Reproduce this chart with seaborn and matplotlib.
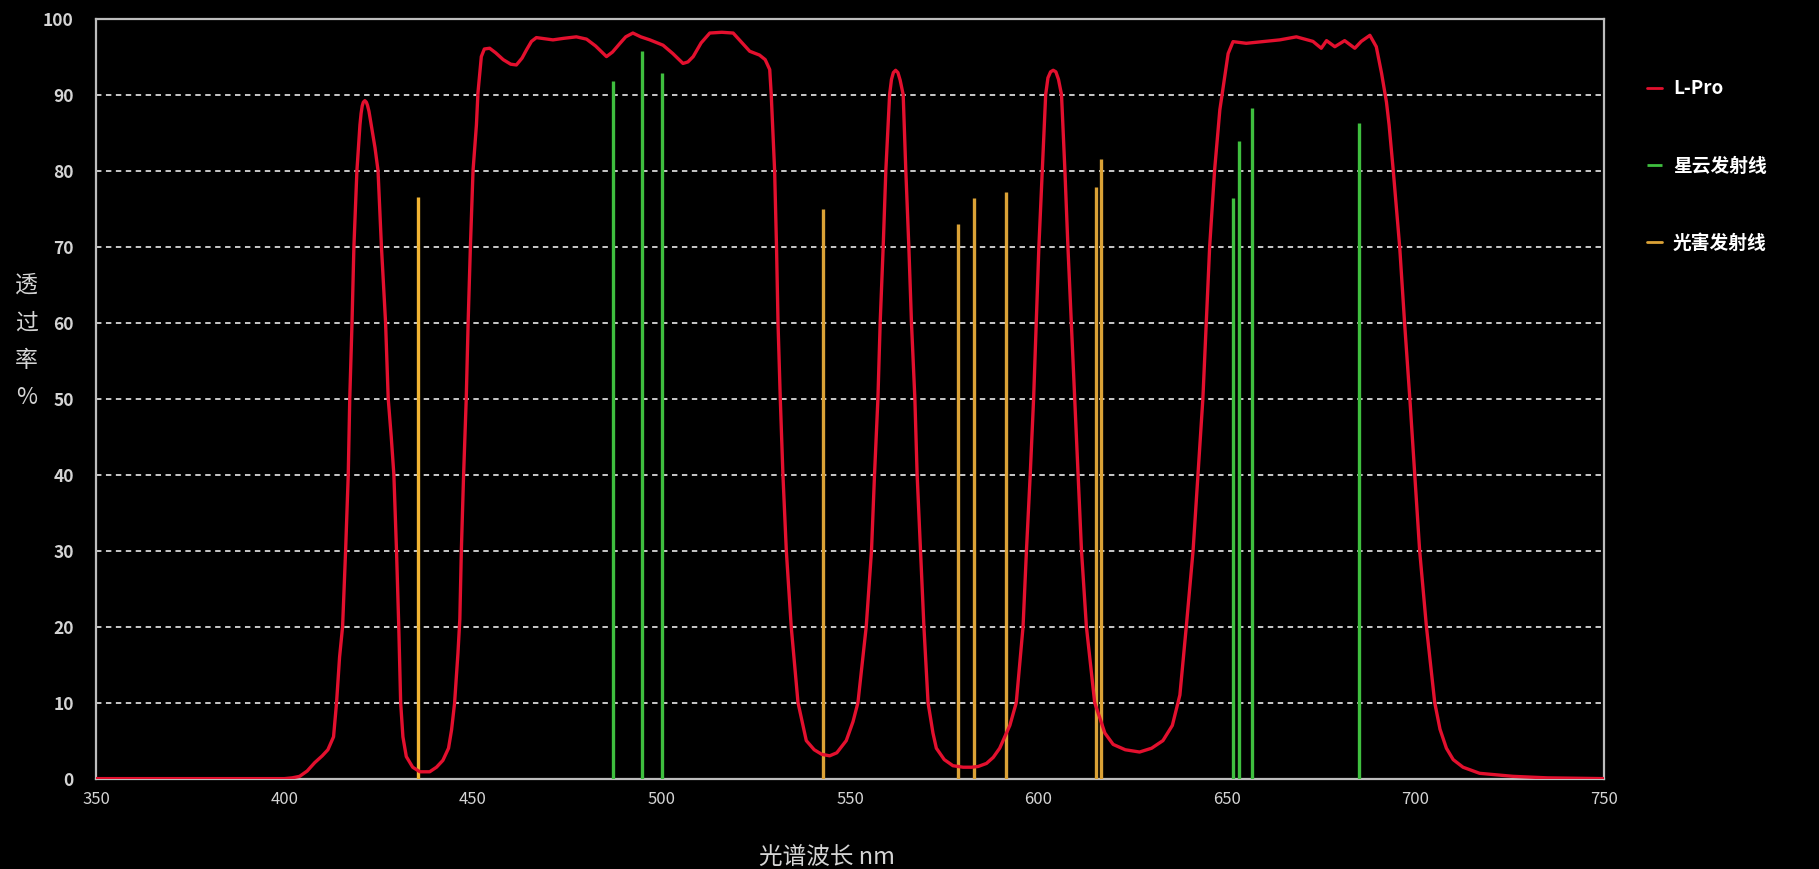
import numpy as np
import pandas as pd
import matplotlib
matplotlib.use("Agg")
import matplotlib.pyplot as plt
import seaborn as sns

# L-Pro 透过率曲线
lpro_wl = [350, 380, 400, 402, 404, 406, 408, 410, 411.5, 413, 413.8, 414.6, 415.4, 416.2, 416.9,
           417.3, 417.9, 418.4, 419.2, 420.0, 420.3, 420.6, 420.9, 421.3, 421.7, 422.0, 422.4,
           423.0, 424.0, 424.8, 425.7,
           426.8, 427.5, 428.3, 429.0, 429.7, 430.3, 430.8, 431.4, 432.3, 434.0, 435.9, 438.5,
           440.3, 442.0, 443.5, 444.3, 445.1, 446.0, 446.5, 446.9, 447.5, 448.2, 448.7, 449.3,
           450.0, 450.9, 451.3, 452.2, 453.0, 454.4, 456.0, 458.0, 460.0, 461.5, 463.0, 464.2,
           465.5, 466.8, 471.2, 474.0, 477.4, 480.1, 482.5, 485.4, 487.0, 488.9, 490.5, 492.4,
           494.5, 496.9, 500.4, 503.0, 505.7, 507.0, 508.4, 510.5, 512.8, 516.0, 519.0, 521.0,
           523.4, 526.0, 527.5, 528.7, 529.1, 530.0, 530.5, 530.9, 531.5, 532.2, 533.1, 534.4,
           536.2, 538.4, 540.5, 542.5, 544.6, 546.5, 549.0, 550.8, 552.1, 554.3, 555.7, 556.5,
           557.4, 558.0, 558.8, 559.5, 560.5, 561.0, 561.5, 562.1, 562.7, 563.3, 564.1, 564.8,
           565.6, 566.3,
           567.2, 567.8, 568.7, 569.6, 570.7, 572.0, 572.9, 575.0, 577.3, 580.0, 582.2, 584.0,
           586.2, 588.0, 589.7, 592.4, 594.1, 595.9, 596.8, 597.8, 598.7, 599.4, 600.1, 601.0,
           601.9, 602.5, 603.2, 603.9, 604.6, 605.3, 606.1, 607.0, 607.8, 608.7, 609.6, 610.5,
           611.4, 612.7,
           614.9, 617.6, 619.8, 623.0, 626.8, 630.0, 633.0, 635.5, 637.5, 639.2, 641.0, 642.3,
           643.6, 644.5, 645.4, 646.7, 648.1, 649.0, 650.3, 651.6, 655.1, 660.0, 664.0, 668.4,
           672.8, 675.0, 676.4, 678.6, 681.2, 683.9, 685.6, 687.9, 689.6, 691.0, 692.3, 693.0,
           694.1, 695.8, 697.1, 698.5, 699.8, 701.1, 702.9, 705.1, 706.5, 708.2, 710.0, 712.6,
           717.0, 725.9, 735.0, 750]
lpro_t = [0, 0, 0, 0.1, 0.3, 1.0, 2.1, 3.0, 3.8, 5.5, 10, 16, 20, 30, 40,
          50, 60, 70, 80, 86, 87.5, 88.5, 89.0, 89.2, 89.0, 88.6, 87.8,
          86, 83, 80, 70,
          60, 50, 45, 40, 30, 20, 10, 5.5, 2.9, 1.5, 0.9, 0.9,
          1.5, 2.4, 4, 6.4, 9.9, 16.5, 21, 30, 40, 50, 60, 70,
          80, 86, 90.2, 95, 96, 96.1, 95.5, 94.6, 94, 93.9, 94.8, 95.9,
          97, 97.5, 97.2, 97.4, 97.6, 97.3, 96.4, 95.0, 95.6, 96.7, 97.6, 98.1,
          97.6, 97.2, 96.5, 95.4, 94.1, 94.3, 95.0, 96.8, 98.1, 98.2, 98.1, 97,
          95.7, 95.2, 94.6, 93.3, 90, 80, 70, 60, 50, 40, 30, 20,
          10, 5, 3.8, 3.2, 3.0, 3.4, 5, 7.5, 10, 20, 30, 40,
          50, 60, 70, 80, 90, 92.0, 92.9, 93.2, 92.9, 91.9, 90, 80,
          70, 60,
          50, 40, 30, 20, 10, 6, 4, 2.5, 1.7, 1.5, 1.5, 1.6,
          2, 2.8, 4, 7, 10, 20, 30, 40, 50, 60, 70, 80,
          90, 92.2, 93.0, 93.2, 93.0, 92.0, 90, 80, 70, 60, 50, 40,
          30, 20,
          10, 6, 4.5, 3.8, 3.5, 4, 5, 7, 11, 20, 30, 40,
          50, 60, 70, 80, 88, 91, 95.4, 96.97, 96.75, 97.0, 97.2, 97.6,
          97.0, 96.1, 97.1, 96.3, 97.1, 96.1, 97.0, 97.8, 96.3, 92.8, 89, 86,
          80, 70, 60, 50, 40, 30, 20, 10, 6.5, 4, 2.5, 1.5,
          0.7, 0.3, 0.1, 0]

# 星云发射线
neb_wl = [487.1, 494.7, 500.2, 651.7, 653.2, 656.5, 684.9]
neb_val = [91.8, 95.8, 92.9, 76.4, 83.9, 88.3, 86.3]

# 光害发射线
lp_wl = [435.5, 542.8, 578.6, 582.8, 591.3, 615.2, 616.7]
lp_val = [76.5, 74.9, 73.0, 76.4, 77.2, 77.9, 81.5]

xticks = [350, 400, 450, 500, 550, 600, 650, 700, 750]
yticks = [0, 10, 20, 30, 40, 50, 60, 70, 80, 90, 100]

red = "#e3102e"
green = "#3fbf3f"
gold = "#dba236"
txt = "#d4d4d4"

sns.set_theme(style="dark")
plt.rcParams["font.family"] = ["Noto Sans CJK SC", "DejaVu Sans"]
plt.rcParams["axes.unicode_minus"] = False

fig = plt.figure(figsize=(18.19, 8.69), dpi=100, facecolor="black")
ax = fig.add_axes([0.0528, 0.104, 0.829, 0.8746])
ax.set_facecolor("black")

df = pd.DataFrame({"wl": lpro_wl, "t": lpro_t})
sns.lineplot(data=df, x="wl", y="t", ax=ax, color=red, linewidth=2.4, sort=False,
             label="L-Pro", zorder=4)

ax.vlines(neb_wl, 0, neb_val, color=green, linewidth=2.4, label="星云发射线", zorder=3)
ax.vlines(lp_wl[:1], 0, lp_val[:1], color="#f2b433", linewidth=2.4, zorder=3)
ax.vlines(lp_wl[1:], 0, lp_val[1:], color=gold, linewidth=2.4, zorder=3)
ax.plot([], [], color=gold, linewidth=2.4, label="光害发射线")

ax.set_xlim(350, 750)
ax.set_ylim(0, 100)
ax.set_xticks(xticks)
ax.set_yticks(yticks)
ax.tick_params(axis="both", length=0, colors=txt)
ax.tick_params(axis="x", pad=9, labelsize=12)
ax.tick_params(axis="y", pad=16, labelsize=12.5)
for lab in ax.get_yticklabels():
    lab.set_fontweight("bold")

ax.grid(False)
for y in yticks[1:-1]:
    ax.axhline(y, color="#d8d8d8", linewidth=1.3, linestyle=(0, (3, 2.5)), zorder=1)

for s in ax.spines.values():
    s.set_visible(True)
    s.set_color("#bdbdbd")
    s.set_linewidth(1.6)

ax.set_xlabel("光谱波长 nm", color=txt, fontsize=17)
ax.xaxis.set_label_coords(0.485, -0.089)
ax.set_ylabel("")
fig.text(0.0145, 0.607, "透\n过\n率\n%", color=txt, fontsize=16.5, ha="center", va="center",
         linespacing=1.8)

leg = ax.legend(loc="upper left", bbox_to_anchor=(0.896, 0.928), bbox_transform=fig.transFigure,
                frameon=False, fontsize=13.5, handlelength=0.8, handletextpad=0.6,
                labelspacing=3.1)
for t in leg.get_texts():
    t.set_color("white")
    t.set_fontweight("bold")
for h in leg.get_lines():
    h.set_linewidth(2.0)

fig.savefig("out.png", dpi=100, facecolor="black")
